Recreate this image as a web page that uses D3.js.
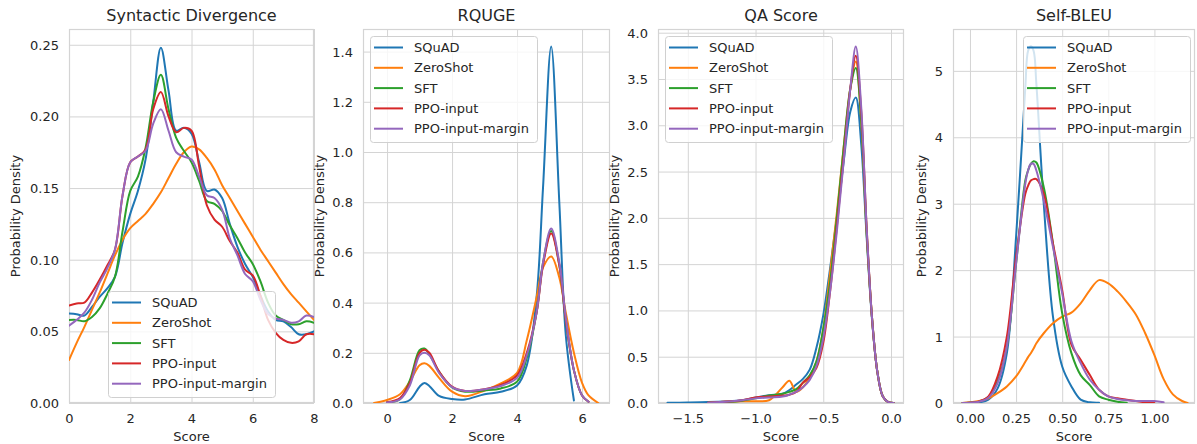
<!DOCTYPE html>
<html><head><meta charset="utf-8">
<script src="https://cdn.jsdelivr.net/npm/d3@7"></script>
<style>
body{margin:0;background:#fff;}
svg{display:block;font-family:"DejaVu Sans",sans-serif;}
</style></head>
<body><svg id="c" width="1197" height="444"></svg>
<script>
// ---------- data ----------
const seriesNames = ["SQuAD", "ZeroShot", "SFT", "PPO-input", "PPO-input-margin"];
const colors = ["#1f77b4", "#ff7f0e", "#2ca02c", "#d62728", "#9467bd"];
const titles = ["Syntactic Divergence", "RQUGE", "QA Score", "Self-BLEU"];

// Panel 1: Syntactic Divergence
const sdX = [0,0.25,0.5,0.75,1,1.25,1.5,1.75,2,2.25,2.5,2.75,3,3.25,3.5,3.75,4,4.25,4.5,4.75,5,5.25,5.5,5.75,6,6.25,6.5,6.75,7,7.25,7.5,7.75,8];
const sdSQuAD = [0.0625,0.062,0.061,0.067,0.074,0.08,0.088,0.112,0.132,0.148,0.17,0.21,0.248,0.218,0.19,0.192,0.188,0.168,0.148,0.149,0.143,0.125,0.109,0.097,0.088,0.075,0.064,0.058,0.057,0.053,0.048,0.048,0.05];
const sdZeroShot = [0.03,0.042,0.053,0.065,0.077,0.09,0.103,0.114,0.122,0.127,0.132,0.139,0.147,0.157,0.167,0.175,0.179,0.177,0.171,0.163,0.152,0.143,0.134,0.125,0.116,0.107,0.099,0.091,0.083,0.076,0.07,0.064,0.058];
const sdSFT = [0.058,0.058,0.057,0.06,0.066,0.076,0.088,0.12,0.148,0.158,0.178,0.21,0.229,0.205,0.185,0.176,0.168,0.155,0.141,0.139,0.134,0.124,0.115,0.105,0.097,0.085,0.07,0.061,0.058,0.055,0.055,0.057,0.056];
const sdPPO = [0.068,0.0695,0.07,0.077,0.086,0.096,0.107,0.145,0.168,0.172,0.177,0.205,0.217,0.2,0.189,0.192,0.19,0.165,0.138,0.128,0.123,0.113,0.105,0.093,0.089,0.075,0.058,0.049,0.044,0.042,0.043,0.048,0.048];
const sdPPOm = [0.054,0.058,0.063,0.072,0.084,0.094,0.107,0.145,0.168,0.172,0.176,0.195,0.205,0.19,0.175,0.172,0.17,0.158,0.145,0.143,0.135,0.115,0.103,0.09,0.085,0.072,0.062,0.059,0.058,0.056,0.057,0.061,0.06];

// Panel 2: RQUGE
const rqX = [-0.4,0,0.4,0.7,1,1.15,1.3,1.6,2,2.4,3,3.5,4,4.3,4.6,4.8,5.05,5.3,5.5,5.75,6,6.2,6.5];
const rqSQuAD = [null,null,0,0.012,0.065,0.08,0.068,0.028,0.016,0.014,0.035,0.045,0.07,0.15,0.42,0.86,1.42,0.8,0.27,0.01,null,null,null];
const rqZeroShot = [0,0.012,0.035,0.085,0.15,0.158,0.148,0.1,0.045,0.027,0.05,0.078,0.12,0.25,0.42,0.54,0.584,0.5,0.36,0.2,0.08,0.03,0];
const rqSFT = [null,0.003,0.015,0.09,0.21,0.217,0.195,0.125,0.062,0.045,0.05,0.058,0.085,0.18,0.36,0.56,0.685,0.55,0.33,0.13,0.03,0.005,null];
const rqPPO = [null,0.003,0.02,0.08,0.2,0.212,0.2,0.125,0.065,0.048,0.055,0.072,0.11,0.2,0.36,0.55,0.675,0.55,0.33,0.13,0.03,0.005,null];
const rqPPOm = [null,0.002,0.015,0.07,0.19,0.2,0.19,0.12,0.063,0.048,0.055,0.068,0.1,0.19,0.36,0.56,0.695,0.56,0.34,0.13,0.03,0.005,null];

// Panel 3: QA Score
const qaX = [-1.65,-1.5,-1.35,-1.2,-1.1,-1.0,-0.9,-0.8,-0.75,-0.7,-0.65,-0.6,-0.55,-0.5,-0.45,-0.4,-0.35,-0.3,-0.26,-0.22,-0.18,-0.14,-0.1,-0.06,-0.02,0.02];
const qaSQuAD = [0.002,0.005,0.01,0.02,0.03,0.06,0.085,0.1,0.14,0.2,0.26,0.36,0.6,0.95,1.45,2.0,2.6,3.15,3.3,2.8,1.8,0.9,0.33,0.07,0.01,0];
const qaZeroShot = [null,null,0.003,0.015,0.02,0.02,0.03,0.17,0.24,0.12,0.17,0.28,0.45,0.8,1.4,2.05,2.75,3.4,3.69,3.05,1.85,0.92,0.33,0.07,0.01,0];
const qaSFT = [null,null,0.003,0.012,0.025,0.05,0.08,0.1,0.12,0.15,0.22,0.3,0.45,0.8,1.3,2.0,2.75,3.4,3.62,3.05,1.85,0.92,0.33,0.07,0.01,0];
const qaPPO = [null,null,0.003,0.015,0.03,0.06,0.07,0.08,0.09,0.12,0.22,0.28,0.38,0.65,1.2,1.9,2.65,3.4,3.75,3.15,1.9,0.92,0.33,0.07,0.01,0];
const qaPPOm = [null,null,0.003,0.015,0.03,0.05,0.06,0.07,0.09,0.12,0.17,0.25,0.4,0.7,1.2,1.85,2.6,3.4,3.85,3.2,1.9,0.92,0.33,0.07,0.01,0];

// Panel 4: Self-BLEU
const sbX = [-0.04,0,0.05,0.1,0.15,0.2,0.25,0.3,0.315,0.33,0.345,0.36,0.4,0.45,0.5,0.55,0.6,0.65,0.7,0.75,0.8,0.85,0.9,0.95,1.0,1.05,1.1,1.15,1.18];
const sbSQuAD = [0,0.002,0.01,0.05,0.22,0.75,2.5,4.75,5.3,5.37,5.3,4.8,3.0,1.3,0.55,0.25,0.05,0.01,0.005,null,null,null,null,null,null,null,null,null,null];
const sbZeroShot = [0,0.01,0.03,0.07,0.15,0.25,0.4,0.62,0.69,0.75,0.82,0.9,1.05,1.2,1.3,1.36,1.5,1.7,1.85,1.8,1.68,1.52,1.33,1.05,0.72,0.36,0.13,0.03,0];
const sbSFT = [0,0.005,0.02,0.09,0.33,0.85,2.1,3.35,3.5,3.6,3.64,3.62,3.25,2.4,1.35,0.75,0.42,0.27,0.1,0.05,0.02,0.005,null,null,null,null,null,null,null];
const sbPPO = [0,0.005,0.025,0.1,0.4,1.0,2.2,3.15,3.27,3.35,3.37,3.37,3.15,2.4,1.7,0.88,0.65,0.42,0.2,0.1,0.07,0.05,0.03,0.01,0,null,null,null,null];
const sbPPOm = [0,0.004,0.02,0.08,0.3,0.85,2.1,3.3,3.5,3.6,3.6,3.5,3.05,2.35,1.65,0.93,0.6,0.35,0.2,0.1,0.06,0.04,0.03,0.03,0.03,0.01,null,null,null];

// tick values and labels
const sdXTicks = [0,2,4,6,8], sdXLabels = ["0","2","4","6","8"];
const sdYTicks = [0,0.05,0.1,0.15,0.2,0.25], sdYLabels = ["0.00","0.05","0.10","0.15","0.20","0.25"];
const rqXTicks = [0,2,4,6], rqXLabels = ["0","2","4","6"];
const rqYTicks = [0,0.2,0.4,0.6,0.8,1.0,1.2,1.4], rqYLabels = ["0.0","0.2","0.4","0.6","0.8","1.0","1.2","1.4"];
const qaXTicks = [-1.5,-1.0,-0.5,0.0], qaXLabels = ["\u22121.5","\u22121.0","\u22120.5","0.0"];
const qaYTicks = [0,0.5,1,1.5,2,2.5,3,3.5,4], qaYLabels = ["0.0","0.5","1.0","1.5","2.0","2.5","3.0","3.5","4.0"];
const sbXTicks = [0,0.25,0.5,0.75,1.0], sbXLabels = ["0.00","0.25","0.50","0.75","1.00"];
const sbYTicks = [0,1,2,3,4,5], sbYLabels = ["0","1","2","3","4","5"];

// ---------- layout ----------
const plotTop = 29, plotBottom = 403;
const panels = [
  {title: titles[0], xs: sdX, ys: [sdSQuAD, sdZeroShot, sdSFT, sdPPO, sdPPOm], xd: [0, 8], yd: [0, 0.261],
   px: [69, 314], xt: sdXTicks, xl: sdXLabels, yt: sdYTicks, yl: sdYLabels, ylabX: 15, leg: [108, 291]},
  {title: titles[1], xs: rqX, ys: [rqSQuAD, rqZeroShot, rqSFT, rqPPO, rqPPOm], xd: [-0.74, 6.86], yd: [0, 1.49],
   px: [363, 610], xt: rqXTicks, xl: rqXLabels, yt: rqYTicks, yl: rqYLabels, ylabX: 319, leg: [370, 36]},
  {title: titles[2], xs: qaX, ys: [qaSQuAD, qaZeroShot, qaSFT, qaPPO, qaPPOm], xd: [-1.72, 0.096], yd: [0, 4.04],
   px: [658, 904], xt: qaXTicks, xl: qaXLabels, yt: qaYTicks, yl: qaYLabels, ylabX: 614, leg: [665, 36]},
  {title: titles[3], xs: sbX, ys: [sbSQuAD, sbZeroShot, sbSFT, sbPPO, sbPPOm], xd: [-0.092, 1.22], yd: [0, 5.63],
   px: [953, 1195], xt: sbXTicks, xl: sbXLabels, yt: sbYTicks, yl: sbYLabels, ylabX: 921, leg: [1023, 36]}
];

const svg = d3.select("#c");
const txt = "#262626", gridC = "#d4d4d4";

panels.forEach((p, pi) => {
  const x = d3.scaleLinear().domain(p.xd).range(p.px);
  const y = d3.scaleLinear().domain(p.yd).range([plotBottom, plotTop]);
  const g = svg.append("g");

  // grid
  const xAxis = d3.axisBottom(x).tickValues(p.xt).tickSize(-(plotBottom - plotTop)).tickFormat((d, i) => p.xl[i]);
  const gx = g.append("g").attr("transform", `translate(0,${plotBottom})`).call(xAxis);
  gx.select(".domain").remove();
  gx.selectAll(".tick line").attr("stroke", gridC).attr("stroke-width", 1);
  gx.selectAll(".tick text").attr("fill", txt).attr("font-size", 13).attr("dy", 0).attr("y", 20)
    .attr("font-family", "DejaVu Sans");

  const yAxis = d3.axisLeft(y).tickValues(p.yt).tickSize(-(p.px[1] - p.px[0])).tickFormat((d, i) => p.yl[i]);
  const gy = g.append("g").attr("transform", `translate(${p.px[0]},0)`).call(yAxis);
  gy.select(".domain").remove();
  gy.selectAll(".tick line").attr("stroke", gridC).attr("stroke-width", 1);
  gy.selectAll(".tick text").attr("fill", txt).attr("font-size", 13).attr("x", -10).attr("dy", "0.35em")
    .attr("font-family", "DejaVu Sans");

  // frame
  g.append("rect").attr("x", p.px[0] + 0.5).attr("y", plotTop + 0.5)
    .attr("width", p.px[1] - p.px[0] - 1).attr("height", plotBottom - plotTop - 1)
    .attr("fill", "none").attr("stroke", gridC).attr("stroke-width", 1.2);

  // clip
  const cid = "clip" + pi;
  svg.append("clipPath").attr("id", cid).append("rect")
    .attr("x", p.px[0]).attr("y", plotTop).attr("width", p.px[1] - p.px[0]).attr("height", plotBottom - plotTop);

  const line = d3.line()
    .defined(d => d[1] != null)
    .x(d => x(d[0])).y(d => y(d[1]))
    .curve(d3.curveCatmullRom.alpha(0.5));

  const lg = g.append("g").attr("clip-path", `url(#${cid})`);
  p.ys.forEach((vals, si) => {
    const pts = p.xs.map((xv, i) => [xv, vals[i]]);
    lg.append("path").datum(pts).attr("d", line)
      .attr("fill", "none").attr("stroke", colors[si]).attr("stroke-width", 2)
      .attr("stroke-linejoin", "round").attr("stroke-linecap", "round");
  });

  // title & labels
  g.append("text").attr("x", (p.px[0] + p.px[1]) / 2).attr("y", 21).attr("text-anchor", "middle")
    .attr("font-size", 16).attr("fill", txt).text(p.title);
  g.append("text").attr("x", (p.px[0] + p.px[1]) / 2).attr("y", 441).attr("text-anchor", "middle")
    .attr("font-size", 13).attr("fill", txt).text("Score");
  g.append("text").attr("transform", `translate(${p.ylabX},${(plotTop + plotBottom) / 2}) rotate(-90)`)
    .attr("text-anchor", "middle").attr("dy", "0.35em")
    .attr("font-size", 13).attr("fill", txt).text("Probability Density");

  // legend
  const [lx, ly] = p.leg;
  const leg = g.append("g");
  leg.append("rect").attr("x", lx + 0.5).attr("y", ly + 0.5).attr("width", 167).attr("height", 106)
    .attr("rx", 3).attr("fill", "#fff").attr("fill-opacity", 0.8).attr("stroke", "#d0d0d0");
  seriesNames.forEach((nm, si) => {
    const ry = ly + 11.5 + si * 20.3;
    leg.append("line").attr("x1", lx + 4).attr("x2", lx + 33).attr("y1", ry).attr("y2", ry)
      .attr("stroke", colors[si]).attr("stroke-width", 2);
    leg.append("text").attr("x", lx + 44).attr("y", ry).attr("dy", "0.35em")
      .attr("font-size", 13).attr("fill", txt).text(nm);
  });
});
</script></body></html>
